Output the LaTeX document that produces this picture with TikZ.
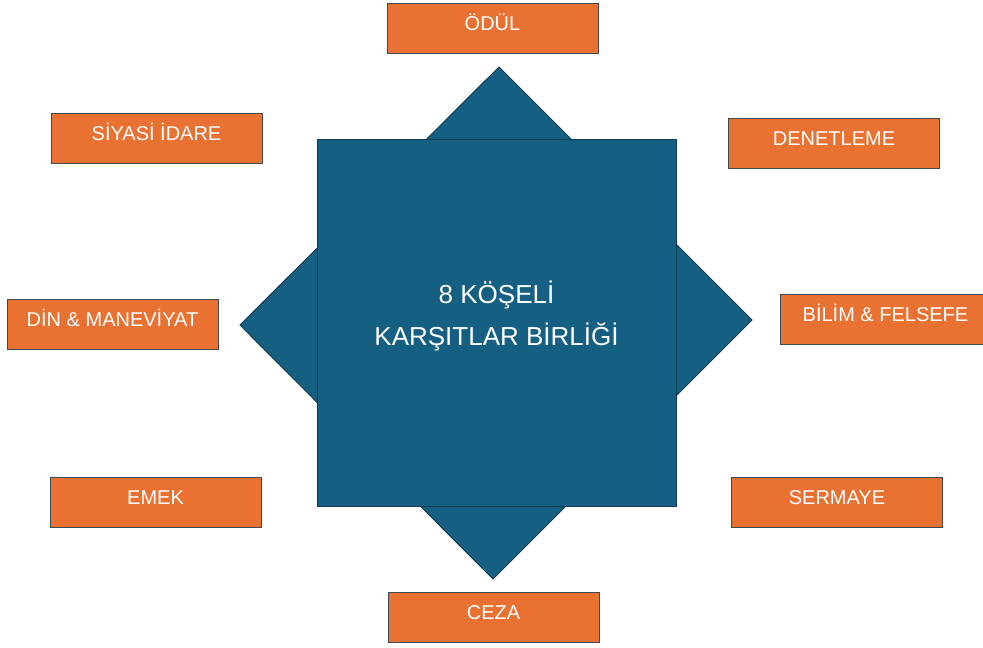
\documentclass[tikz,border=0pt]{standalone}
\usepackage{fontspec}
\setmainfont{Liberation Sans}
\definecolor{cblue}{HTML}{156082}
\definecolor{cedge}{HTML}{0F3B52}
\definecolor{corange}{HTML}{E97132}
\definecolor{cbox}{HTML}{3E4A52}
\tikzset{
  labelbox/.style={draw=cbox, line width=1pt, fill=corange, text=white,
    minimum width=211pt, minimum height=50pt, inner sep=0pt,
    text height=14.3pt, text depth=0pt,
    font=\fontsize{20}{24}\selectfont},
  core/.style={draw=cedge, line width=1pt, fill=cblue}
}
\newcommand{\up}[1]{\raisebox{5pt}{#1}}
\begin{document}
\begin{tikzpicture}[x=1pt,y=-1pt]
\clip (0,0) rectangle (983,648);
\fill[white] (0,0) rectangle (983,648);
% diamond behind
\draw[core, line join=miter] (499,67) -- (752,320) -- (493,579) -- (240,325) -- cycle;
% central square
\node[core, minimum width=359pt, minimum height=367pt, inner sep=0pt] (sq) at (496.5,322.5) {};
\node[anchor=base, align=center, text=white, inner sep=0pt,
  font=\fontsize{26}{42}\selectfont] (title) at (496.5,345) {8 KÖŞELİ\\KARŞITLAR BİRLİĞİ};
% boxes
\node[labelbox] (odul) at (492.5,28) {\up{ÖDÜL}};
\node[labelbox] (ceza) at (493.5,617) {\up{CEZA}};
\node[labelbox] (siyasi) at (156.5,138.5) {\up{SİYASİ İDARE}};
\node[labelbox] (denetleme) at (834,143) {\up{DENETLEME}};
\node[labelbox] (din) at (112.5,324) {\up{DİN \& MANEVİYAT}};
\node[labelbox] (bilim) at (885.5,319) {\up{BİLİM \& FELSEFE}};
\node[labelbox] (emek) at (155.5,502) {\up{EMEK}};
\node[labelbox] (sermaye) at (837,502) {\up{SERMAYE}};
\end{tikzpicture}
\end{document}
